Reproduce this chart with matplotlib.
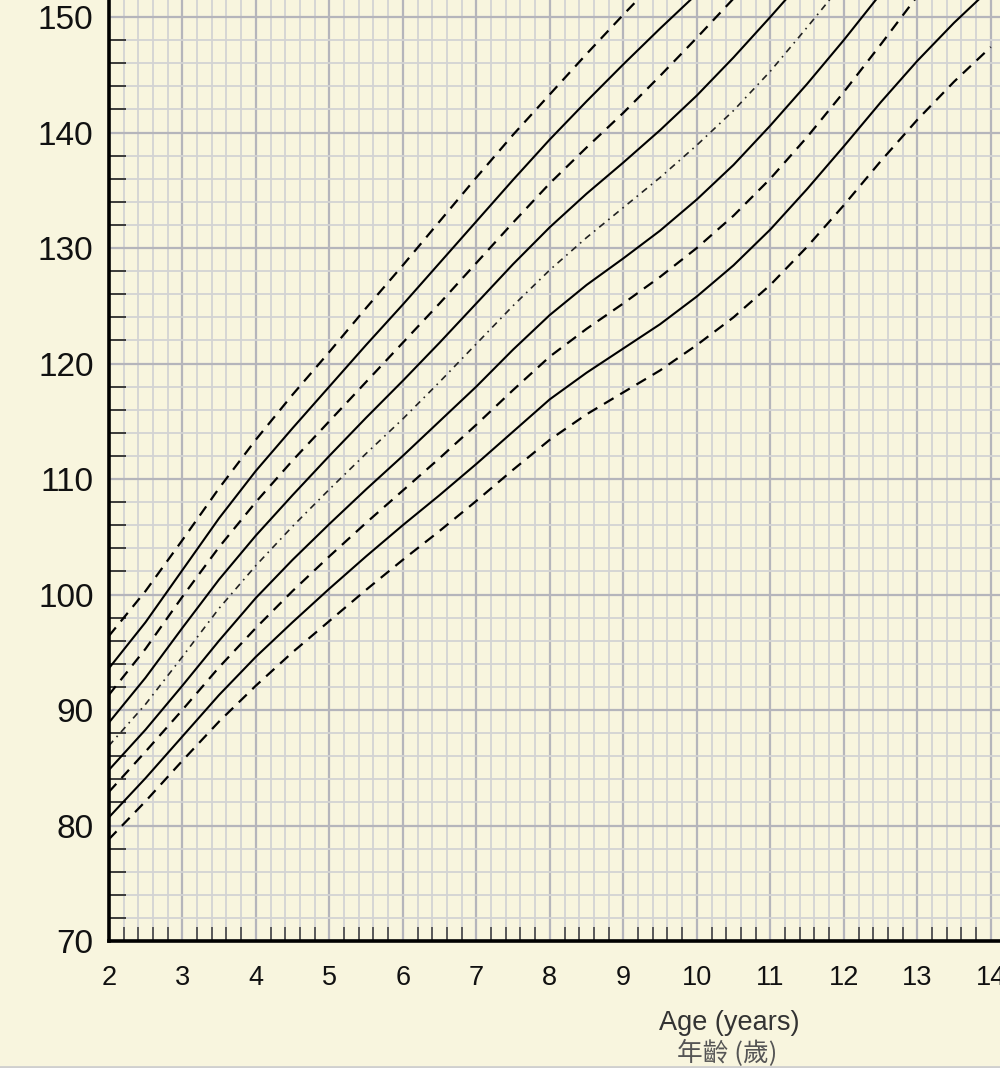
import numpy as np
import matplotlib
matplotlib.use("Agg")
import matplotlib.pyplot as plt
from matplotlib.ticker import MultipleLocator

# ages (years) at which the curves were read
ages = [2, 2.5, 3, 3.5, 4, 4.5, 5, 5.5, 6, 6.5, 7, 7.5, 8, 8.5, 9,
        9.5, 10, 10.5, 11, 11.5, 12, 12.5, 13, 13.5, 14]

# height curves (cm), top to bottom
c1 = [96.4, 100.3, 104.7, 109.2, 113.4, 117.3, 121.0, 124.8, 128.5, 132.3, 136.1,
      139.8, 143.3, 146.8, 150.2, 153.5]
c2 = [93.6, 97.6, 102.1, 106.6, 110.7, 114.4, 118.0, 121.6, 125.1, 128.7, 132.3,
      135.9, 139.4, 142.7, 145.9, 149.0, 152.0, 155.0]
c3 = [91.3, 95.3, 99.8, 104.1, 108.0, 111.6, 115.0, 118.4, 121.8, 125.2, 128.7,
      132.2, 135.6, 138.7, 141.7, 144.9, 148.2, 151.6, 155.0]
c4 = [88.9, 92.8, 97.1, 101.3, 105.1, 108.6, 112.0, 115.3, 118.5, 121.8, 125.2,
      128.6, 131.8, 134.7, 137.4, 140.2, 143.2, 146.5, 150.0, 153.6]
c5 = [86.9, 90.5, 94.6, 98.8, 102.5, 105.9, 109.1, 112.2, 115.2, 118.4, 121.7,
      125.0, 128.1, 130.9, 133.5, 136.1, 138.9, 141.9, 145.3, 149.1, 153.0]
c6 = [84.8, 88.3, 92.1, 96.0, 99.7, 103.0, 106.1, 109.1, 112.0, 115.0, 118.0,
      121.2, 124.2, 126.8, 129.1, 131.5, 134.2, 137.2, 140.6, 144.2, 148.0, 152.0]
c7 = [82.9, 86.4, 90.0, 93.7, 97.1, 100.3, 103.3, 106.2, 109.0, 111.8, 114.7,
      117.7, 120.6, 123.0, 125.2, 127.5, 130.0, 132.8, 136.0, 139.6, 143.5, 147.6, 151.8]
c8 = [80.7, 84.1, 87.7, 91.3, 94.6, 97.6, 100.5, 103.3, 106.0, 108.6, 111.3,
      114.1, 116.9, 119.2, 121.3, 123.4, 125.8, 128.5, 131.6, 135.1, 138.8, 142.6,
      146.2, 149.5, 152.5]
c9 = [78.8, 82.1, 85.6, 89.0, 92.1, 95.0, 97.7, 100.4, 103.0, 105.5, 108.1,
      110.8, 113.4, 115.6, 117.5, 119.4, 121.6, 124.0, 126.8, 130.1, 133.7, 137.5,
      141.1, 144.4, 147.4]

curves = [c1, c2, c3, c4, c5, c6, c7, c8, c9]
styles = ['dash', 'solid', 'dash', 'solid', 'dashdot', 'solid', 'dash', 'solid', 'dash']

x_ticks = list(range(2, 15))
y_ticks = list(range(70, 151, 10))

bg = '#f8f5de'
fig = plt.figure(figsize=(10, 10.68), dpi=100, facecolor=bg)
ax = fig.add_axes([0.1088, 127 / 1068, 0.8912, 941 / 1068])
ax.set_facecolor(bg)

ax.set_xlim(2, 2 + 891.2 / 73.5)
ax.set_ylim(70, 70 + 941 / 11.55)

ax.xaxis.set_minor_locator(MultipleLocator(0.2))
ax.yaxis.set_minor_locator(MultipleLocator(2))
ax.set_xticks(x_ticks)
ax.set_yticks(y_ticks)

ax.grid(which='minor', color='#d3d3d3', lw=1.3, zorder=0)
ax.grid(which='major', color='#b5b5bb', lw=1.6, zorder=0)
ax.set_axisbelow(True)

for yv, st in zip(curves, styles):
    xs = ages[:len(yv)]
    if st == 'solid':
        ax.plot(xs, yv, color='black', lw=1.5, zorder=3, solid_joinstyle='round')
    elif st == 'dash':
        ax.plot(xs, yv, color='black', lw=1.6, ls=(0, (5, 3.5)), zorder=3)
    else:
        ax.plot(xs, yv, color='#222222', lw=1.2, ls=(0, (4, 3, 1, 3)), zorder=3)

for s in ['top', 'right']:
    ax.spines[s].set_visible(False)
for s in ['left', 'bottom']:
    ax.spines[s].set_linewidth(2.6)
    ax.spines[s].set_color('black')
    ax.spines[s].set_zorder(5)

ax.tick_params(which='major', length=0)
ax.tick_params(axis='x', which='major', pad=17)
ax.tick_params(axis='y', which='major', pad=11)
ax.tick_params(axis='x', which='minor', direction='in', length=10, width=1.2, color='#444444')
ax.tick_params(axis='y', which='minor', direction='in', length=12, width=1.2, color='#222222')

for lab in ax.get_yticklabels():
    lab.set_fontsize(24)
    lab.set_family('Liberation Sans')
    lab.set_color('#111111')
for lab in ax.get_xticklabels():
    lab.set_fontsize(19.5)
    lab.set_family('Liberation Sans')
    lab.set_color('#111111')
    lab.set_clip_on(False)

fig.text(0.729, 1 - 1023 / 1068, 'Age (years)', ha='center', va='center',
         fontsize=19.5, color='#333333', family=['Liberation Sans', 'DejaVu Sans'])
fig.text(0.727, 1 - 1053 / 1068, '年齡 (歲)', ha='center', va='center',
         fontsize=18.5, color='#555555', family=['Noto Sans CJK TC', 'DejaVu Sans'])

fig.add_artist(plt.Line2D([0, 1], [1.5 / 1068, 1.5 / 1068], color='#cfcfcf', lw=2,
                          transform=fig.transFigure))

fig.savefig('out.png', dpi=100, facecolor=bg)
